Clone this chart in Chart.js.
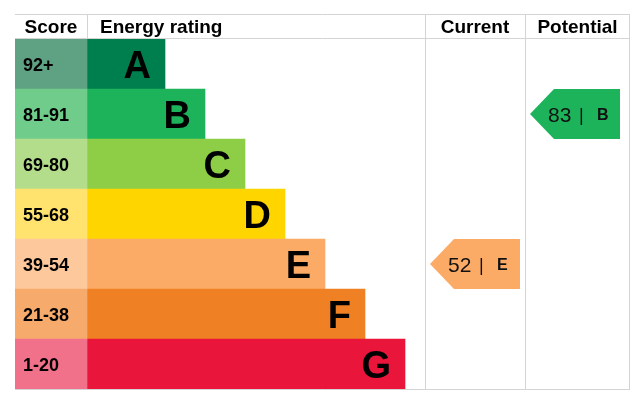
<!DOCTYPE html>
<html>
<head>
<meta charset="utf-8">
<script src="https://cdn.jsdelivr.net/npm/chart.js@4"></script>
<style>
  html, body { margin: 0; padding: 0; background: #fff; }
  #wrap { width: 640px; height: 406px; position: relative; }
</style>
</head>
<body>
<div id="wrap"><canvas id="epcChart"></canvas></div>
<script>
// rating bands, top to bottom
const bands = ['A', 'B', 'C', 'D', 'E', 'F', 'G'];
const scoreLabels = ['92+', '81-91', '69-80', '55-68', '39-54', '21-38', '1-20'];
const bandMin = [92, 81, 69, 55, 39, 21, 1];
// bar lengths in chart units (score column takes 0..72)
const barEnds = [150, 190, 230, 270, 310, 350, 390];
const barColors = ['#007f4e', '#1db35a', '#8dce46', '#ffd500', '#fbab66', '#ef8023', '#e9153b'];
const scoreColors = ['#5fa183', '#6fcc8b', '#b4dd8b', '#ffe36e', '#fdc89c', '#f6ab6c', '#f2718a'];

const currentScore = 52;
const potentialScore = 83;

const scoreColEnd = 72;
const currentCol = [410, 510];
const potentialCol = [510, 615];

function bandOf(score) {
    for (let i = 0; i < bandMin.length; i++) {
        if (score >= bandMin[i]) return i;
    }
    return bandMin.length - 1;
}

const FONT = '"Liberation Sans", Arial, Helvetica, sans-serif';

const epcPlugin = {
    id: 'epc',
    afterDatasetsDraw(chart) {
        const ctx = chart.ctx;
        const x = chart.scales.x;
        const y = chart.scales.y;
        const area = chart.chartArea;
        const headTop = area.top - 25;
        const rowH = y.getPixelForValue(1) - y.getPixelForValue(0);

        ctx.save();
        // grid lines
        ctx.strokeStyle = '#d4d4d4';
        ctx.lineWidth = 1;
        const left = x.getPixelForValue(0);
        const right = x.getPixelForValue(615);
        const hLine = (py) => { ctx.beginPath(); ctx.moveTo(left, py + 0.5); ctx.lineTo(right, py + 0.5); ctx.stroke(); };
        const vLine = (px, y0, y1) => { ctx.beginPath(); ctx.moveTo(Math.round(px) + 0.5, y0); ctx.lineTo(Math.round(px) + 0.5, y1); ctx.stroke(); };
        hLine(headTop);
        hLine(area.top - 1);
        hLine(area.bottom);
        vLine(x.getPixelForValue(scoreColEnd), headTop, area.top);
        vLine(x.getPixelForValue(currentCol[0]), headTop, area.bottom);
        vLine(x.getPixelForValue(potentialCol[0]), headTop, area.bottom);
        vLine(right - 1, headTop, area.bottom);

        // header text
        ctx.fillStyle = '#000';
        ctx.font = 'bold 19px ' + FONT;
        ctx.textBaseline = 'alphabetic';
        const headBase = headTop + 19;
        ctx.textAlign = 'center';
        ctx.fillText('Score', (left + x.getPixelForValue(scoreColEnd)) / 2, headBase);
        ctx.fillText('Current', (x.getPixelForValue(currentCol[0]) + x.getPixelForValue(currentCol[1])) / 2, headBase);
        ctx.fillText('Potential', (x.getPixelForValue(potentialCol[0]) + x.getPixelForValue(potentialCol[1])) / 2, headBase);
        ctx.textAlign = 'left';
        ctx.fillText('Energy rating', x.getPixelForValue(scoreColEnd) + 13, headBase);

        // score labels and band letters
        bands.forEach((b, i) => {
            const cy = y.getPixelForValue(i);
            ctx.fillStyle = '#000';
            ctx.font = 'bold 18px ' + FONT;
            ctx.textAlign = 'left';
            ctx.fillText(scoreLabels[i], left + 8, cy + 6.5);
            ctx.font = 'bold 38px ' + FONT;
            ctx.textAlign = 'right';
            ctx.fillText(b, x.getPixelForValue(barEnds[i]) - 14, cy + 13.5);
        });

        // rating arrows
        const arrow = (score, col) => {
            const i = bandOf(score);
            const cy = y.getPixelForValue(i);
            const top = cy - rowH / 2;
            const bot = cy + rowH / 2;
            const tip = x.getPixelForValue(col[0]) + 5;
            const end = tip + 90;
            ctx.fillStyle = barColors[i];
            ctx.beginPath();
            ctx.moveTo(tip, cy);
            ctx.lineTo(tip + 24, top);
            ctx.lineTo(end, top);
            ctx.lineTo(end, bot);
            ctx.lineTo(tip + 24, bot);
            ctx.closePath();
            ctx.fill();
            ctx.fillStyle = '#111';
            ctx.textAlign = 'left';
            ctx.font = '21px ' + FONT;
            ctx.fillText(String(score), tip + 18, cy + 7.5);
            ctx.font = '18px ' + FONT;
            ctx.fillText('|', tip + 49, cy + 6.5);
            ctx.font = 'bold 16px ' + FONT;
            ctx.fillText(bands[i], tip + 67, cy + 6);
        };
        arrow(currentScore, currentCol);
        arrow(potentialScore, potentialCol);
        ctx.restore();
    }
};

new Chart(document.getElementById('epcChart').getContext('2d'), {
    type: 'bar',
    data: {
        labels: bands,
        datasets: [
            {
                label: 'Score',
                data: bands.map(() => [0, scoreColEnd]),
                backgroundColor: scoreColors,
                grouped: false,
                barPercentage: 1,
                categoryPercentage: 1,
                borderWidth: 0
            },
            {
                label: 'Energy rating',
                data: barEnds.map(v => [scoreColEnd, v]),
                backgroundColor: barColors,
                grouped: false,
                barPercentage: 1,
                categoryPercentage: 1,
                borderWidth: 0
            }
        ]
    },
    options: {
        indexAxis: 'y',
        responsive: true,
        maintainAspectRatio: false,
        animation: false,
        layout: {
            padding: { left: 15, right: 10, top: 39, bottom: 17 }
        },
        plugins: {
            legend: { display: false },
            tooltip: { enabled: false },
            title: { display: false }
        },
        scales: {
            x: { type: 'linear', min: 0, max: 615, display: false },
            y: { type: 'category', display: false }
        }
    },
    plugins: [epcPlugin]
});
</script>
</body>
</html>
